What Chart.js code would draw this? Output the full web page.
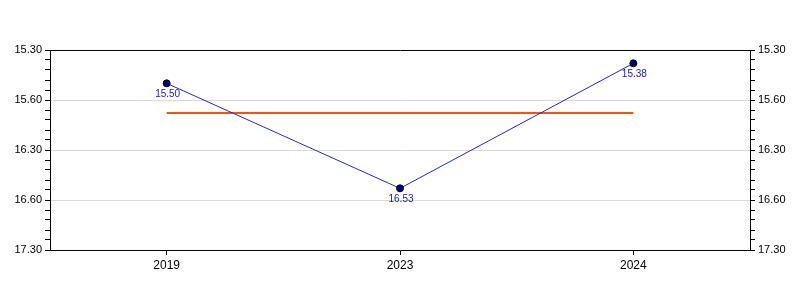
<!DOCTYPE html>
<html>
<head>
<meta charset="utf-8">
<script src="https://cdn.jsdelivr.net/npm/chart.js@4"></script>
<style>
html,body{margin:0;padding:0;background:#fff;}
#wrap{width:800px;height:300px;}
</style>
</head>
<body>
<div id="wrap"><canvas id="c" width="800" height="300"></canvas></div>
<script>
// categories
const years = ["2019", "2023", "2024"];
// values as shown (minutes.seconds)
const timeLabels = ["15.50", "16.53", "15.38"];
// average reference line (decimal minutes)
const avgValues = [16.13, 16.13, 16.13];
// y tick labels as printed (top to bottom)
const yTickLabels = ["15.30", "15.60", "16.30", "16.60", "17.30"];
const yMin = 15.5, yMax = 17.5, yMajor = 0.5;

function toMinutes(s) {
  const [m, sec] = s.split(".");
  return parseInt(m, 10) + parseInt(sec, 10) / 60;
}
const values = timeLabels.map(toMinutes);

const FONT = { family: "'Liberation Sans', Arial, sans-serif", size: 11 };

function majorIndex(v) {
  const k = (v - yMin) / yMajor;
  const r = Math.round(k);
  return Math.abs(k - r) < 1e-6 ? r : -1;
}

function yAxis(position, drawArea) {
  return {
    type: 'linear',
    position: position,
    reverse: true,
    min: yMin,
    max: yMax,
    afterFit: (s) => { s.width = 50; },
    border: { display: true, color: '#000', width: 1 },
    grid: {
      drawOnChartArea: drawArea,
      color: (ctx) => {
        const m = ctx.tick ? majorIndex(ctx.tick.value) : -1;
        return (m > 0 && m < yTickLabels.length - 1) ? '#dadada' : 'rgba(0,0,0,0)';
      },
      tickColor: '#000',
      tickLength: 5,
      lineWidth: 1
    },
    ticks: {
      stepSize: 0.1,
      autoSkip: false,
      padding: 3,
      color: '#000',
      font: FONT,
      callback: (v) => { const m = majorIndex(v); return m >= 0 ? yTickLabels[m] : ''; }
    }
  };
}

const labelPlugin = {
  id: 'ptLabels',
  afterDatasetsDraw(chart) {
    const meta = chart.getDatasetMeta(0);
    const ctx = chart.ctx;
    ctx.save();
    ctx.font = "10px 'Liberation Sans', Arial, sans-serif";
    ctx.fillStyle = '#1a1aa8';
    ctx.textAlign = 'center';
    ctx.textBaseline = 'top';
    meta.data.forEach((pt, i) => {
      ctx.fillText(timeLabels[i], pt.x + 1, pt.y + 6);
    });
    ctx.restore();
  }
};

new Chart(document.getElementById('c'), {
  type: 'line',
  data: {
    labels: years,
    datasets: [
      {
        data: values,
        borderColor: '#2a2ab8',
        borderWidth: 1,
        pointRadius: 3.5,
        pointBackgroundColor: '#000080',
        pointBorderColor: '#000',
        pointBorderWidth: 1,
        tension: 0,
        yAxisID: 'y',
        order: 1
      },
      {
        data: avgValues,
        borderColor: '#ff4f0a',
        borderWidth: 2,
        pointRadius: 0,
        tension: 0,
        yAxisID: 'y',
        order: 2
      }
    ]
  },
  options: {
    responsive: false,
    animation: false,
    devicePixelRatio: 1,
    layout: { padding: { top: 50, bottom: 0, left: 0, right: 0 } },
    plugins: { legend: { display: false }, tooltip: { enabled: false } },
    scales: {
      x: {
        type: 'category',
        offset: true,
        afterFit: (s) => { s.height = 50; },
        border: { display: true, color: '#000', width: 1 },
        grid: { drawOnChartArea: false, tickColor: '#000', tickLength: 5, offset: false },
        ticks: { color: '#000', font: { family: FONT.family, size: 12 }, padding: 3 }
      },
      xTop: {
        type: 'category',
        position: 'top',
        offset: true,
        afterFit: (s) => { s.height = 0; },
        border: { display: true, color: '#000', width: 1 },
        grid: { display: false, drawTicks: false },
        ticks: { display: false }
      },
      y: yAxis('left', true),
      y2: yAxis('right', false)
    }
  },
  plugins: [labelPlugin]
});
</script>
</body>
</html>
